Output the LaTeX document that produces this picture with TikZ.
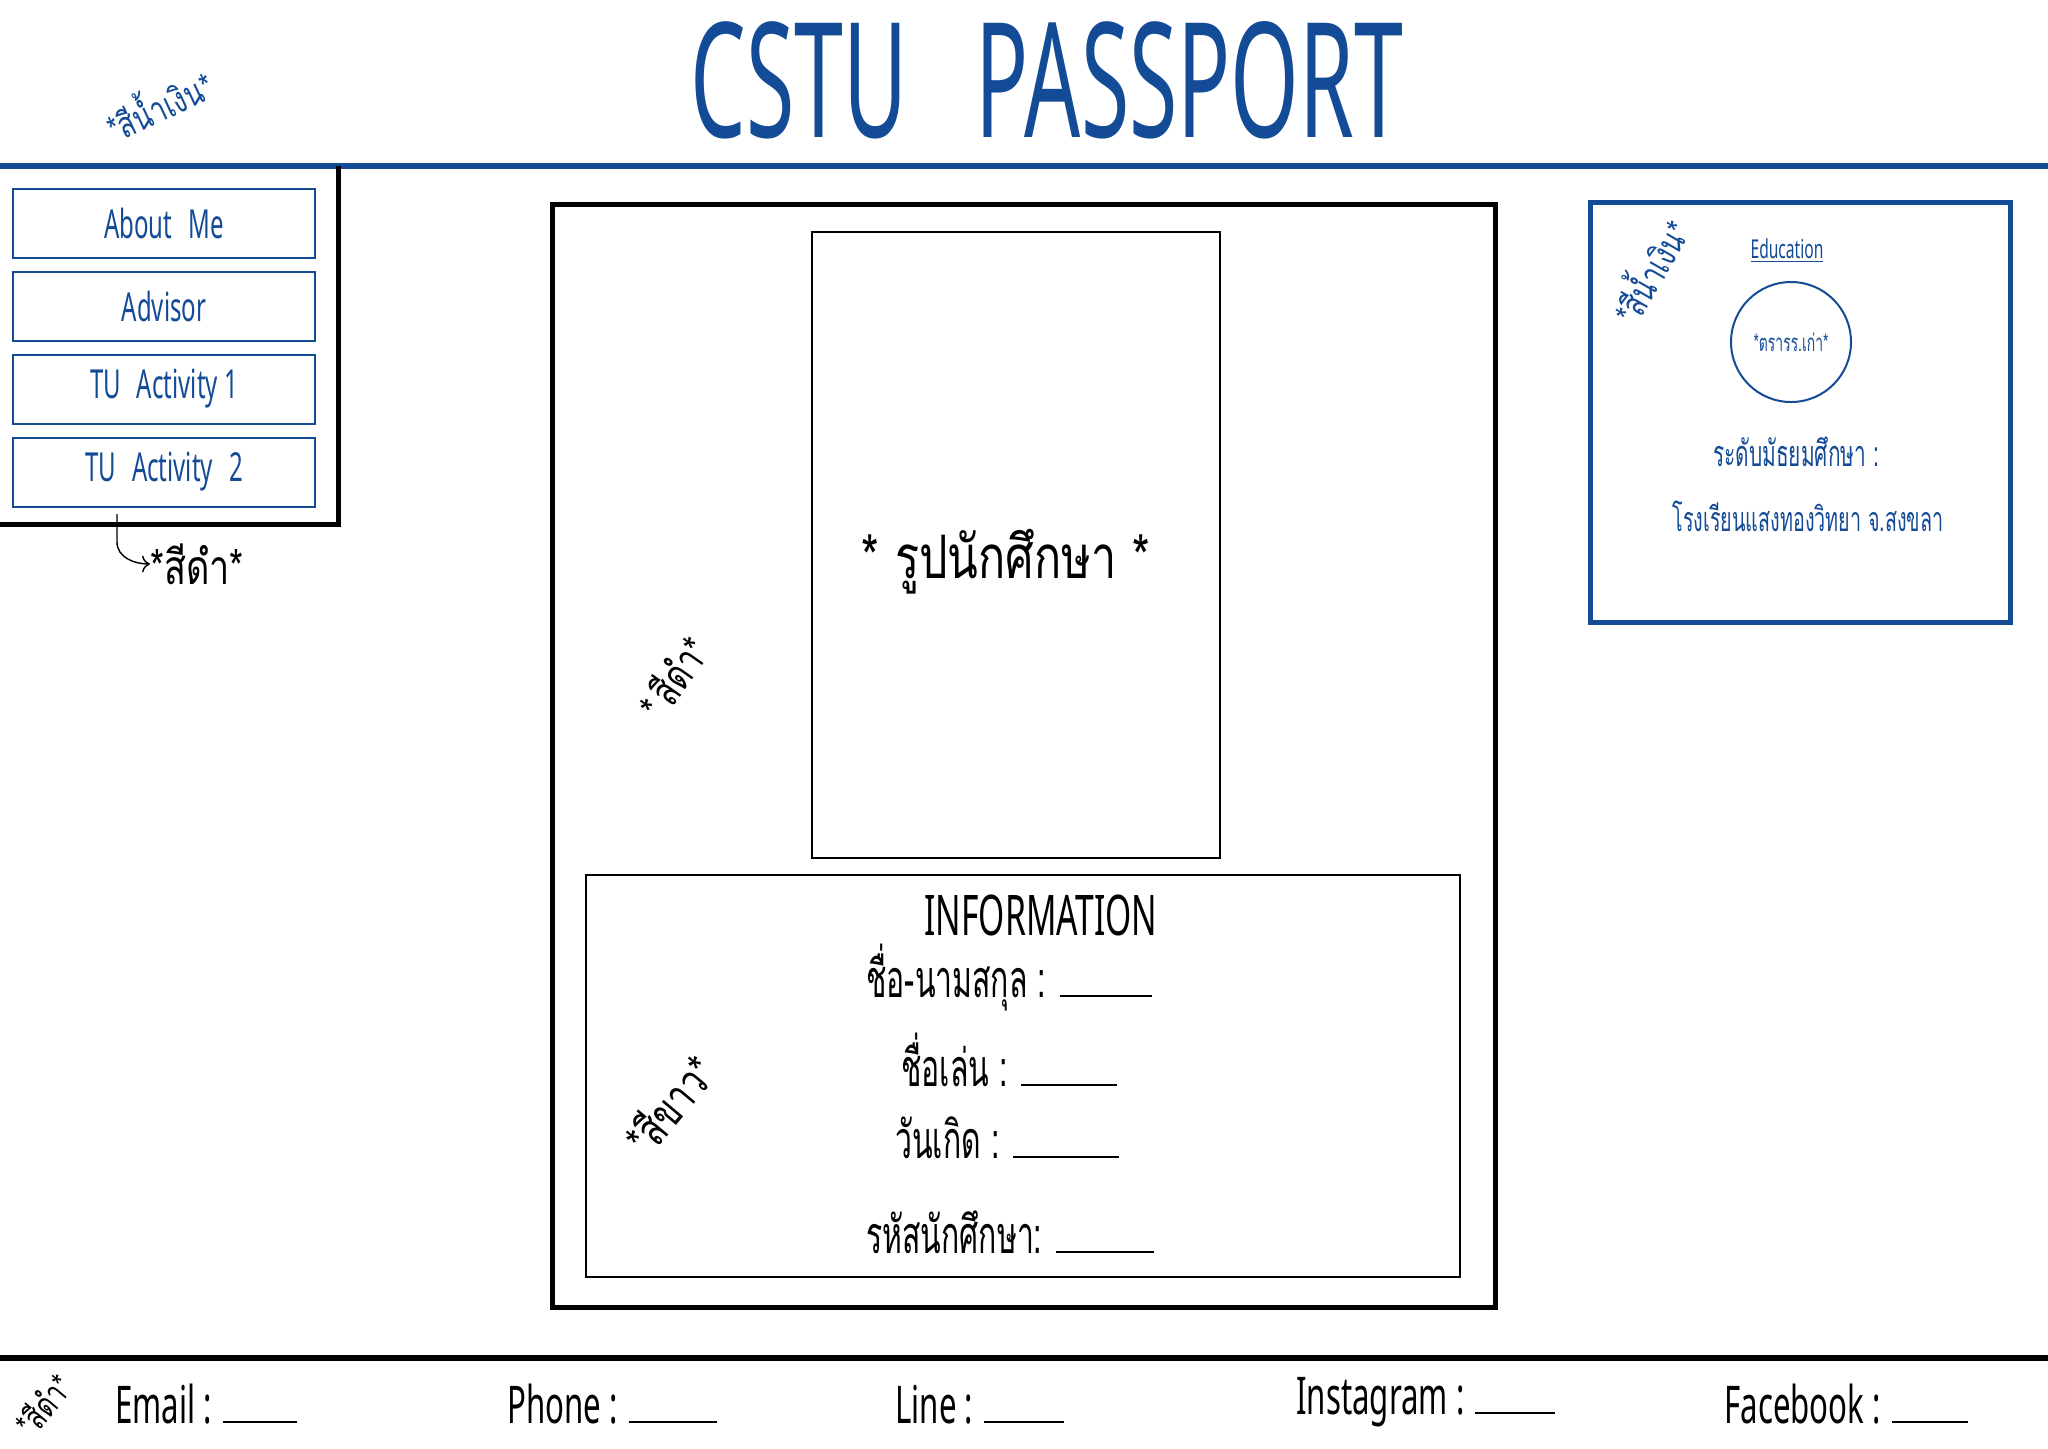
\documentclass[tikz,border=0pt]{standalone}
\usepackage{fontspec}
\setmainfont{Noto Sans}
\newfontfamily\handfont[FakeStretch=0.6]{Noto Sans}
\newfontfamily\titlefont[FakeStretch=0.55]{Noto Sans}
\newfontfamily\thaifont[Script=Thai,FakeStretch=0.75]{Loma}
\newfontfamily\thainarrow[Script=Thai,FakeStretch=0.58]{Loma}
\usetikzlibrary{positioning,arrows.meta}
\definecolor{passblue}{RGB}{20,75,150}
\tikzset{
  navbtn/.style  = {draw=passblue, line width=1pt, minimum width=151pt, minimum height=34.5pt,
                    inner sep=0pt, text=passblue, font=\handfont\fontsize{20}{22}\selectfont},
  heavy/.style   = {draw=black, line width=2.5pt},
  slim/.style    = {draw=black, line width=0.7pt},
  colnote/.style = {font=\thaifont\fontsize{18}{20}\selectfont, inner sep=0pt},
  field/.style   = {font=\thainarrow\fontsize{26}{28}\selectfont, anchor=base west, inner sep=0pt},
  contact/.style = {font=\handfont\fontsize{26}{28}\selectfont, anchor=base west, inner sep=0pt},
}
\newcommand{\blank}[1]{\rule{#1}{0.8pt}}

\begin{document}
\begin{tikzpicture}[x=0.5pt, y=-0.5pt, node distance=6pt]
\useasboundingbox (0,0) rectangle (2048,1448);

% header
\node[text=passblue, font=\titlefont\fontsize{80}{88}\selectfont] (title) at (1047,80) {CSTU\hspace{34pt}PASSPORT};
\draw[passblue, line width=3pt] (0,166) -- (2048,166);
\node[colnote, text=passblue, rotate=25] (bluenote) at (158,103) {*สีน้ำเงิน*};

% menu
\node[navbtn] (about) at (164,223) {About\hspace{8pt}Me};
\node[navbtn, below=of about] (advisor) {Advisor};
\node[navbtn, below=of advisor] (act1) {TU\hspace{8pt}Activity 1};
\node[navbtn, below=of act1] (act2) {TU\hspace{8pt}Activity\hspace{8pt}2};
\draw[heavy] (338,166) -- (338,524) -- (0,524);
\coordinate (menutail) at (117,514);
\node[colnote, font=\thaifont\fontsize{24}{26}\selectfont, anchor=west] (blacknote) at (150,564) {*สีดำ*};
\draw[-{To[length=4pt]}, line width=0.7pt] (menutail) -- ++(0,28) to[out=-90, in=180] (blacknote.west);

% card
\node[heavy, minimum width=471.5pt, minimum height=551.5pt] (card) at (1023.5,755.5) {};
\node[slim, minimum width=204pt, minimum height=313pt] (photo) at (1016,545) {};
\node[font=\thaifont\fontsize{30}{32}\selectfont] (photolbl) at (1006,562) {*\hspace{8pt}รูปนักศึกษา\hspace{8pt}*};
\node[colnote, font=\thaifont\fontsize{21}{23}\selectfont, rotate=55] (cardnote) at (673,677) {*\hspace{3pt}สีดำ*};

\node[slim, minimum width=437pt, minimum height=201pt] (info) at (1023,1076) {};
\node[font=\handfont\fontsize{28}{30}\selectfont] (infohead) at (1041,915) {INFORMATION};
\node[field] (fullname) at (866,997) {ชื่อ-นามสกุล : \blank{46pt}};
\node[field] (nickname) at (901,1086) {ชื่อเล่น : \blank{48pt}};
\node[field] (birthday) at (895,1158) {วันเกิด : \blank{53pt}};
\node[field] (stuid) at (866,1253) {รหัสนักศึกษา: \blank{49pt}};
\node[colnote, font=\thaifont\fontsize{23}{25}\selectfont, rotate=50] (whitenote) at (669,1104) {*สีขาว*};

% education
\node[draw=passblue, line width=2.5pt, minimum size=210pt] (edu) at (1800,412) {};
\node[text=passblue, font=\handfont\fontsize{13}{15}\selectfont] (eduhead) at (1787,251) {\underline{Education}};
\node[circle, draw=passblue, line width=1pt, minimum size=60pt, inner sep=0pt,
      text=passblue, font=\thainarrow\fontsize{12}{14}\selectfont] (crest) at (1791,342) {*ตรารร.เก่า*};
\node[text=passblue, font=\thainarrow\fontsize{18}{20}\selectfont] (level) at (1796,452) {ระดับมัธยมศึกษา :};
\node[text=passblue, font=\thainarrow\fontsize{17}{19}\selectfont] (school) at (1808,516) {โรงเรียนแสงทองวิทยา จ.สงขลา};
\node[colnote, text=passblue, rotate=60] (edunote) at (1648,270) {*สีน้ำเงิน*};

% footer
\draw[black, line width=3pt] (0,1358) -- (2048,1358);
\node[colnote, font=\thaifont\fontsize{17}{19}\selectfont, rotate=50] (footnote) at (43,1404) {*สีดำ*};
\node[contact] (email) at (115,1423) {Email : \blank{37pt}};
\node[contact] (phone) at (507,1423) {Phone : \blank{44pt}};
\node[contact] (line) at (895,1423) {Line : \blank{40pt}};
\node[contact] (insta) at (1296,1414) {Instagram : \blank{40pt}};
\node[contact] (fb) at (1724,1423) {Facebook : \blank{38pt}};

\end{tikzpicture}
\end{document}
